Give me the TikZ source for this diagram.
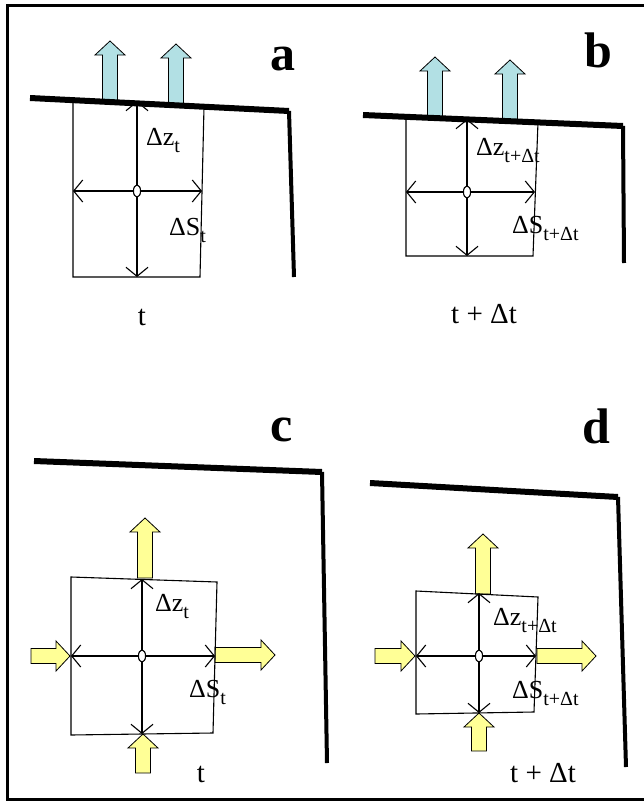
\documentclass[tikz,border=0pt]{standalone}
\usepackage{fontspec}
\setmainfont{Liberation Serif}
\usepackage{tikz}
\usetikzlibrary{arrows.meta,positioning,calc,shapes.geometric}
\definecolor{cflux}{RGB}{178,224,228}
\definecolor{cside}{RGB}{255,255,150}
\newcommand{\lowidx}[1]{\raisebox{-0.3em}{\fontsize{20}{20}\selectfont #1}}

\begin{document}
\begin{tikzpicture}[x=1pt, y=-1pt,
    ground/.style={line width=6pt},
    wall/.style={line width=4pt},
    cell/.style={line width=1.1pt},
    axis/.style={line width=1.1pt, {Straight Barb[length=9pt,width=22pt]}-{Straight Barb[length=9pt,width=22pt]}},
    hole/.style={draw, fill=white, ellipse, line width=1pt, minimum width=7pt, minimum height=12pt, inner sep=0pt},
    lbl/.style={font=\fontsize{26}{28}\selectfont, inner sep=0pt, anchor=base west},
    tlbl/.style={font=\fontsize{29}{30}\selectfont, inner sep=0pt, anchor=base},
    panel/.style={font=\fontsize{50}{52}\selectfont\bfseries, inner sep=0pt, anchor=base},
    flux/.pic={\draw[pic actions] (0,-7.5) -- (#1-14,-7.5) -- (#1-14,-15) -- (#1,0)
      -- (#1-14,15) -- (#1-14,7.5) -- (0,7.5) -- cycle;},
    up/.style={draw, line width=0.8pt, fill=cflux, rotate=90},
    side/.style={draw, line width=0.8pt, fill=cside}]
  \useasboundingbox (0,0) rectangle (643,803);
  % frame
  \draw[line width=3pt] (660,5) -- (7,5) -- (7,799) -- (660,799);

  % ---- a : time t, vertical exchange only
  \pic[up] at (110,101) {flux=60};
  \pic[up] at (176,104) {flux=60};
  \coordinate (a-s0) at (30,98);
  \coordinate (a-s1) at (289,111);
  \coordinate (a-s2) at (294,277);
  \coordinate (a-tl) at (73,101);
  \coordinate (a-tr) at (204,107);
  \coordinate (a-br) at (200,277);
  \coordinate (a-bl) at (73,277);
  \node[hole] (a-c) at (137,191) {};
  \draw[cell] (a-tl) -- (a-tr) -- (a-br) -- (a-bl) -- cycle;
  \draw[axis] (a-c |- a-tl) -- (a-c |- a-bl);
  \draw[axis] (a-tl |- a-c) -- (202,191);
  \node[hole] at (a-c) {};
  \draw[ground] (a-s0) -- (a-s1);
  \draw[wall] (a-s1) -- (a-s2);
  \node[panel] (a-id) at (283,70) {a};
  \node[lbl] (a-dz) at (146,145) {Δz\lowidx{t}};
  \node[lbl] (a-ds) at (169,235) {ΔS\lowidx{t}};
  \node[tlbl] (a-time) at (142,325) {t};

  % ---- b : time t + dt
  \pic[up] at (435,117) {flux=60};
  \pic[up] at (510,120) {flux=60};
  \coordinate (b-s0) at (363,115);
  \coordinate (b-s1) at (623,126);
  \coordinate (b-s2) at (624,263);
  \coordinate (b-tl) at (406,117);
  \coordinate (b-tr) at (538,122);
  \coordinate (b-br) at (533,256);
  \coordinate (b-bl) at (406,256);
  \node[hole] (b-c) at (467,192) {};
  \draw[cell] (b-tl) -- (b-tr) -- (b-br) -- (b-bl) -- cycle;
  \draw[axis] (467,119) -- (b-c |- b-bl);
  \draw[axis] (b-tl |- b-c) -- (535,192);
  \node[hole] at (b-c) {};
  \draw[ground] (b-s0) -- (b-s1);
  \draw[wall] (b-s1) -- (b-s2);
  \node[panel] (b-id) at (598,67) {b};
  \node[lbl] (b-dz) at (476,155) {Δz\lowidx{t+Δt}};
  \node[lbl] (b-ds) at (512,233) {ΔS\lowidx{t+Δt}};
  \node[tlbl] (b-time) at (484,323) {t + Δt};

  % ---- c : time t, exchange on all four faces
  \coordinate (c-s0) at (34,461);
  \coordinate (c-s1) at (322,472);
  \coordinate (c-s2) at (327,763);
  \coordinate (c-tl) at (71,577);
  \coordinate (c-tr) at (217,582);
  \coordinate (c-br) at (213,733);
  \coordinate (c-bl) at (71,735);
  \pic[side, rotate=90] at (145,578) {flux=60};
  \pic[side] at (31,656) {flux=39};
  \pic[side] at (215,655) {flux=60};
  \pic[side, rotate=90] at (143,773) {flux=39};
  \node[hole] (c-c) at (142,656) {};
  \draw[cell] (c-tl) -- (c-tr) -- (c-br) -- (c-bl) -- cycle;
  \draw[axis] (142,579) -- (142,734);
  \draw[axis] (c-tl |- c-c) -- (215,656);
  \node[hole] at (c-c) {};
  \draw[ground] (c-s0) -- (c-s1);
  \draw[wall] (c-s1) -- (c-s2);
  \node[panel] (c-id) at (282,441) {c};
  \node[lbl] (c-dz) at (155,611) {Δz\lowidx{t}};
  \node[lbl] (c-ds) at (189,697) {ΔS\lowidx{t}};
  \node[tlbl] (c-time) at (201,782) {t};

  % ---- d : time t + dt
  \coordinate (d-s0) at (370,483);
  \coordinate (d-s1) at (618,497);
  \coordinate (d-s2) at (626,767);
  \coordinate (d-tl) at (416,591);
  \coordinate (d-tr) at (538,597);
  \coordinate (d-br) at (534,712);
  \coordinate (d-bl) at (416,714);
  \pic[side, rotate=90] at (483,594) {flux=60};
  \pic[side] at (375,656) {flux=40};
  \pic[side] at (537,656) {flux=59};
  \pic[side, rotate=90] at (479,751) {flux=38};
  \node[hole] (d-c) at (479,656) {};
  \draw[cell] (d-tl) -- (d-tr) -- (d-br) -- (d-bl) -- cycle;
  \draw[axis] (479,593) -- (479,713);
  \draw[axis] (d-tl |- d-c) -- (536,656);
  \node[hole] at (d-c) {};
  \draw[ground] (d-s0) -- (d-s1);
  \draw[wall] (d-s1) -- (d-s2);
  \node[panel] (d-id) at (596,443) {d};
  \node[lbl] (d-dz) at (493,625) {Δz\lowidx{t+Δt}};
  \node[lbl] (d-ds) at (512,698) {ΔS\lowidx{t+Δt}};
  \node[tlbl] (d-time) at (543,782) {t + Δt};
\end{tikzpicture}
\end{document}
